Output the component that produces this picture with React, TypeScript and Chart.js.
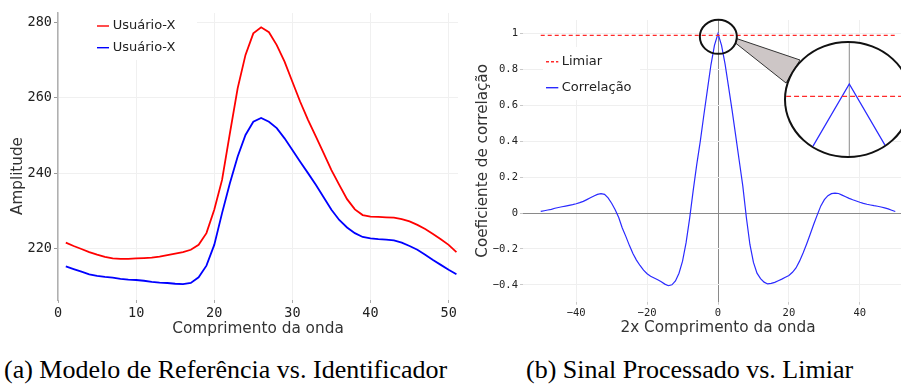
import React, { useEffect, useRef } from "react";
import { Chart, registerables } from "chart.js";

Chart.register(...registerables);

const SANS = "'DejaVu Sans', Verdana, sans-serif";
const MONO = "'DejaVu Sans Mono', monospace";
const SERIF = "'Liberation Serif', 'Times New Roman', serif";

// ---------- (a) Modelo de Referência vs. Identificador ----------
const comprimento = [
  1, 2, 3, 4, 5, 6, 7, 8, 9, 10, 11, 12, 13, 14, 15, 16, 17, 18, 19, 20, 21, 22, 23, 24, 25, 26,
  27, 28, 29, 30, 31, 32, 33, 34, 35, 36, 37, 38, 39, 40, 41, 42, 43, 44, 45, 46, 47, 48, 49, 50, 51,
];
const usuarioVermelho = [
  221.6, 220.7, 219.9, 219.1, 218.4, 217.8, 217.4, 217.3, 217.3, 217.4, 217.5, 217.6, 217.9, 218.3,
  218.7, 219.1, 219.7, 221.0, 224.1, 230.3, 238.2, 250.5, 262.5, 271.3, 277.0, 278.6, 277.3, 273.9,
  269.5, 264.2, 258.9, 254.1, 249.7, 245.3, 240.8, 236.9, 233.1, 230.4, 228.9, 228.5, 228.4, 228.3,
  228.2, 227.8, 227.2, 226.3, 225.2, 223.9, 222.5, 221.0, 219.1,
];
const usuarioAzul = [
  215.3, 214.6, 213.9, 213.2, 212.8, 212.5, 212.3, 212.0, 211.8, 211.7, 211.5, 211.2, 211.0, 210.9,
  210.7, 210.6, 210.9, 212.4, 215.5, 221.0, 229.4, 237.3, 244.4, 250.1, 253.6, 254.6, 253.6, 251.9,
  249.2, 246.1, 243.0, 240.0, 236.9, 233.6, 230.3, 227.6, 225.6, 224.1, 223.1, 222.7, 222.5, 222.4,
  222.2, 221.6, 220.7, 219.7, 218.4, 217.0, 215.7, 214.4, 213.2,
];
const serieLabels = ["Usuário-X", "Usuário-X"];
const amplitudeTicks = [220, 240, 260, 280];
const comprimentoTicks = [0, 10, 20, 30, 40, 50];

// ---------- (b) Sinal Processado vs. Limiar ----------
const deslocamento = [
  -50, -49, -48, -47, -46, -45, -44, -43, -42, -41, -40, -39, -38, -37, -36, -35, -34, -33, -32, -31,
  -30, -29, -28, -27, -26, -25, -24, -23, -22, -21, -20, -19, -18, -17, -16, -15, -14, -13, -12, -11,
  -10, -9, -8, -7, -6, -5, -4, -3, -2, -1, 0, 1, 2, 3, 4, 5, 6, 7, 8, 9, 10, 11, 12, 13, 14, 15, 16,
  17, 18, 19, 20, 21, 22, 23, 24, 25, 26, 27, 28, 29, 30, 31, 32, 33, 34, 35, 36, 37, 38, 39, 40, 41,
  42, 43, 44, 45, 46, 47, 48, 49, 50,
];
const correlacao = [
  0.009, 0.013, 0.017, 0.021, 0.027, 0.031, 0.035, 0.039, 0.043, 0.047, 0.052, 0.058, 0.065, 0.075,
  0.085, 0.095, 0.104, 0.108, 0.104, 0.085, 0.055, 0.018, -0.025, -0.083, -0.13, -0.18, -0.225,
  -0.262, -0.292, -0.318, -0.338, -0.352, -0.362, -0.372, -0.383, -0.396, -0.405, -0.4, -0.378,
  -0.335, -0.268, -0.165, -0.03, 0.125, 0.27, 0.4, 0.545, 0.685, 0.825, 0.935, 1.0, 0.935, 0.83, 0.7,
  0.57, 0.43, 0.29, 0.15, -0.025, -0.175, -0.275, -0.335, -0.365, -0.385, -0.395, -0.392, -0.386,
  -0.377, -0.368, -0.358, -0.348, -0.33, -0.306, -0.268, -0.223, -0.172, -0.118, -0.062, -0.01, 0.04,
  0.075, 0.097, 0.108, 0.111, 0.109, 0.1, 0.091, 0.082, 0.074, 0.067, 0.06, 0.054, 0.049, 0.045,
  0.041, 0.038, 0.034, 0.029, 0.023, 0.016, 0.009,
];
const limiarValor = 0.99;
const limiarX = [-50, 50];
const coefTicks = [-0.4, -0.2, 0, 0.2, 0.4, 0.6, 0.8, 1];
const coefTickLabels = ["\u22120.4", "\u22120.2", "0", "0.2", "0.4", "0.6", "0.8", "1"];
const deslTicks = [-40, -20, 0, 20, 40];
const deslTickLabels = ["\u221240", "\u221220", "0", "20", "40"];
const zoomCentro = { x: 0.1, y: 0.982 };

const RIGHT_OFFSET = 460;

function drawLegend(chart: any, pos: any) {
  const ctx = chart.ctx;
  ctx.save();
  chart.data.datasets.forEach((ds: any, i: number) => {
    const y = pos.ys[i];
    ctx.strokeStyle = ds.borderColor;
    ctx.lineWidth = 1.4;
    ctx.setLineDash(ds.borderDash ? [3, 2] : []);
    ctx.beginPath();
    ctx.moveTo(pos.x1, y);
    ctx.lineTo(pos.x2, y);
    ctx.stroke();
    ctx.setLineDash([]);
    ctx.fillStyle = "#222";
    ctx.font = `13px ${SANS}`;
    ctx.textBaseline = "middle";
    ctx.textAlign = "left";
    ctx.fillText(ds.label, pos.tx, y);
  });
  ctx.restore();
}

const leftDecor = {
  id: "leftDecor",
  beforeDatasetsDraw(chart: any) {
    const ctx = chart.ctx;
    ctx.save();
    ctx.fillStyle = "#fff";
    ctx.fillRect(59, 13, 138, 47);
    ctx.restore();
  },
  afterDraw(chart: any) {
    drawLegend(chart, { x1: 97, x2: 109, ys: [26, 47.7], tx: 112.7 });
    const ctx = chart.ctx;
    ctx.save();
    ctx.translate(18.3, 176);
    ctx.rotate(-Math.PI / 2);
    ctx.fillStyle = "#333";
    ctx.font = `15.2px ${SANS}`;
    ctx.textAlign = "center";
    ctx.textBaseline = "middle";
    ctx.fillText("Amplitude", 0, 0);
    ctx.restore();
  },
};

const rightDecor = {
  id: "rightDecor",
  beforeDatasetsDraw(chart: any) {
    const ctx = chart.ctx;
    ctx.save();
    ctx.fillStyle = "#fff";
    ctx.fillRect(543 - RIGHT_OFFSET, 47, 97, 53);
    ctx.restore();
  },
  afterDatasetsDraw(chart: any) {
    const ctx = chart.ctx;
    const xs = chart.scales.x;
    const ys = chart.scales.y;
    const cx = xs.getPixelForValue(zoomCentro.x);
    const cy = ys.getPixelForValue(zoomCentro.y);
    ctx.save();
    // connector to the magnified view
    ctx.beginPath();
    ctx.moveTo(736.5 - RIGHT_OFFSET, 38.5);
    ctx.lineTo(800 - RIGHT_OFFSET, 60);
    ctx.lineTo(786 - RIGHT_OFFSET, 83);
    ctx.lineTo(735.5 - RIGHT_OFFSET, 43);
    ctx.closePath();
    ctx.fillStyle = "#cdc6c6";
    ctx.fill();
    ctx.strokeStyle = "#333";
    ctx.lineWidth = 1;
    ctx.stroke();
    // small zoom ellipse
    ctx.beginPath();
    ctx.ellipse(cx, cy, 18.5, 17, 0, 0, Math.PI * 2);
    ctx.strokeStyle = "#111";
    ctx.lineWidth = 2;
    ctx.stroke();
    ctx.restore();
  },
  afterDraw(chart: any) {
    drawLegend(chart, {
      x1: 546 - RIGHT_OFFSET,
      x2: 558.3 - RIGHT_OFFSET,
      ys: [61.7, 87.7],
      tx: 561.7 - RIGHT_OFFSET,
    });
  },
};

const insetDecor = {
  id: "insetDecor",
  beforeDatasetsDraw(chart: any) {
    const ctx = chart.ctx;
    const x = chart.scales.x.getPixelForValue(0);
    ctx.save();
    ctx.strokeStyle = "#8a8a8a";
    ctx.lineWidth = 1;
    ctx.beginPath();
    ctx.moveTo(x, 0);
    ctx.lineTo(x, chart.height);
    ctx.stroke();
    ctx.restore();
  },
};

function correlacaoPontos() {
  return deslocamento.map((x, i) => ({ x, y: correlacao[i] }));
}
function limiarPontos() {
  return limiarX.map((x) => ({ x, y: limiarValor }));
}

export default function App() {
  const leftRef = useRef<HTMLCanvasElement>(null);
  const rightRef = useRef<HTMLCanvasElement>(null);
  const insetRef = useRef<HTMLCanvasElement>(null);

  useEffect(() => {
    const common: any = {
      responsive: false,
      animation: false,
      devicePixelRatio: 1,
      events: [],
    };

    const left = new Chart(leftRef.current!, {
      type: "line",
      data: {
        datasets: [
          {
            label: serieLabels[0],
            data: comprimento.map((x, i) => ({ x, y: usuarioVermelho[i] })),
            borderColor: "#ff0000",
            borderWidth: 1.8,
            pointRadius: 0,
            tension: 0,
          },
          {
            label: serieLabels[1],
            data: comprimento.map((x, i) => ({ x, y: usuarioAzul[i] })),
            borderColor: "#0000ff",
            borderWidth: 1.8,
            pointRadius: 0,
            tension: 0,
          },
        ],
      },
      options: {
        ...common,
        layout: { padding: { top: 13, right: 2, left: 0, bottom: 0 } },
        plugins: { legend: { display: false }, tooltip: { enabled: false } },
        scales: {
          x: {
            type: "linear",
            min: 0,
            max: 51.2,
            afterBuildTicks: (s: any) => {
              s.ticks = comprimentoTicks.map((v) => ({ value: v }));
            },
            afterFit: (s: any) => {
              s.height = 40;
            },
            border: { display: false },
            grid: { color: "#f0f0f0", tickColor: "#aaa", tickLength: 3 },
            ticks: {
              font: { family: MONO, size: 13.5 },
              color: "#222",
              padding: 2,
              maxRotation: 0,
              autoSkip: false,
              callback: (v: any) => String(v),
            },
            title: {
              display: true,
              text: "Comprimento da onda",
              font: { family: SANS, size: 15.3 },
              color: "#333",
              padding: { top: 0, bottom: 1.7 },
            },
          },
          y: {
            min: 206.4,
            max: 282.4,
            afterBuildTicks: (s: any) => {
              s.ticks = amplitudeTicks.map((v) => ({ value: v }));
            },
            afterFit: (s: any) => {
              s.width = 58;
            },
            border: { display: true, color: "#b0b0b0", width: 1.5 },
            grid: { color: "#f0f0f0", tickColor: "#999", tickLength: 4 },
            ticks: {
              font: { family: MONO, size: 13.5 },
              color: "#222",
              padding: 2,
              callback: (v: any) => String(v),
            },
          },
        },
      } as any,
      plugins: [leftDecor],
    });

    const gridColor = (ctx: any) =>
      ctx.tick && ctx.tick.value === 0 ? "#8a8a8a" : "#efefef";

    const right = new Chart(rightRef.current!, {
      type: "line",
      data: {
        datasets: [
          {
            label: "Limiar",
            data: limiarPontos(),
            borderColor: "#ff2a2a",
            borderWidth: 1.3,
            borderDash: [4, 3],
            pointRadius: 0,
          },
          {
            label: "Correlação",
            data: correlacaoPontos(),
            borderColor: "#2a2aff",
            borderWidth: 1.2,
            pointRadius: 0,
            tension: 0,
          },
        ],
      },
      options: {
        ...common,
        layout: { padding: { top: 20, right: 9, left: 0, bottom: 0 } },
        plugins: { legend: { display: false }, tooltip: { enabled: false } },
        scales: {
          x: {
            type: "linear",
            min: -55,
            max: 55,
            afterBuildTicks: (s: any) => {
              s.ticks = deslTicks.map((v) => ({ value: v }));
            },
            afterFit: (s: any) => {
              s.height = 38.3;
            },
            border: { display: false },
            grid: { color: gridColor, tickColor: "#c8c8c8", tickLength: 3 },
            ticks: {
              font: { family: MONO, size: 10.5 },
              color: "#222",
              padding: 2,
              maxRotation: 0,
              autoSkip: false,
              callback: (_v: any, i: number) => deslTickLabels[i],
            },
            title: {
              display: true,
              text: "2x Comprimento da onda",
              font: { family: SANS, size: 15.3 },
              color: "#333",
              padding: { top: 0, bottom: 2.7 },
            },
          },
          y: {
            min: -0.494,
            max: 1.076,
            afterBuildTicks: (s: any) => {
              s.ticks = coefTicks.map((v) => ({ value: v }));
            },
            afterFit: (s: any) => {
              s.width = 63;
            },
            border: { display: false },
            grid: { color: gridColor, tickColor: "#c8c8c8", tickLength: 3 },
            ticks: {
              font: { family: MONO, size: 10.5 },
              color: "#222",
              padding: 2,
              callback: (_v: any, i: number) => coefTickLabels[i],
            },
            title: {
              display: true,
              text: "Coeficiente de correlação",
              font: { family: SANS, size: 15.2 },
              color: "#333",
              padding: { top: 14.3, bottom: 0 },
            },
          },
        },
      } as any,
      plugins: [rightDecor],
    });

    const inset = new Chart(insetRef.current!, {
      type: "line",
      data: {
        datasets: [
          {
            label: "Limiar",
            data: limiarPontos(),
            borderColor: "#ff2a2a",
            borderWidth: 1.3,
            borderDash: [5, 3],
            pointRadius: 0,
          },
          {
            label: "Correlação",
            data: correlacaoPontos(),
            borderColor: "#2a2aff",
            borderWidth: 1.3,
            pointRadius: 0,
            tension: 0,
          },
        ],
      },
      options: {
        ...common,
        layout: { padding: 0 },
        plugins: { legend: { display: false }, tooltip: { enabled: false } },
        scales: {
          x: { type: "linear", min: -1.355, max: 1.3, display: false },
          y: { min: 0.9415, max: 1.0333, display: false },
        },
      } as any,
      plugins: [insetDecor],
    });

    return () => {
      left.destroy();
      right.destroy();
      inset.destroy();
    };
  }, []);

  const caption: React.CSSProperties = {
    position: "absolute",
    top: 357,
    fontFamily: SERIF,
    fontSize: 26,
    lineHeight: "26px",
    color: "#000",
    whiteSpace: "nowrap",
  };

  return (
    <div
      style={{
        position: "fixed",
        left: 0,
        top: 0,
        width: 901,
        height: 385,
        overflow: "hidden",
        background: "#fff",
      }}
    >
      <canvas
        ref={leftRef}
        width={460}
        height={340}
        style={{ position: "absolute", left: 0, top: 0, width: 460, height: 340 }}
      />
      <canvas
        ref={rightRef}
        width={462}
        height={340}
        style={{ position: "absolute", left: RIGHT_OFFSET, top: 0, width: 462, height: 340 }}
      />
      <div
        style={{
          position: "absolute",
          left: 784,
          top: 41,
          width: 128,
          height: 117,
          boxSizing: "border-box",
          border: "2px solid #111",
          borderRadius: "50%",
          overflow: "hidden",
          background: "#fff",
        }}
      >
        <canvas
          ref={insetRef}
          width={124}
          height={113}
          style={{ display: "block", width: 124, height: 113 }}
        />
      </div>
      <div style={{ ...caption, left: 4 }}>(a) Modelo de Referência vs. Identificador</div>
      <div style={{ ...caption, left: 526 }}>(b) Sinal Processado vs. Limiar</div>
    </div>
  );
}
